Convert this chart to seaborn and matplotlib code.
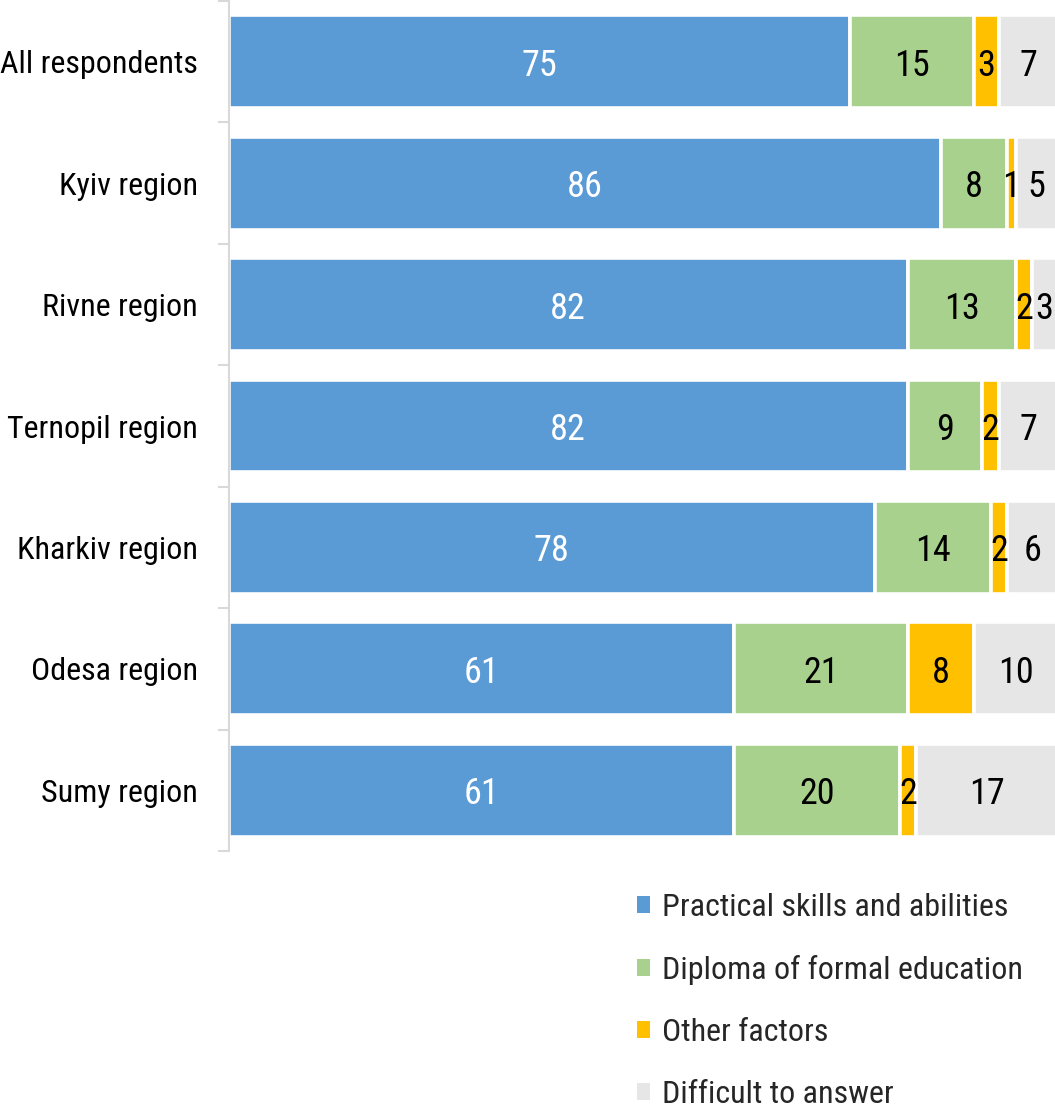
import matplotlib
matplotlib.use("Agg")
import matplotlib.pyplot as plt
from matplotlib import font_manager
from matplotlib.patches import Patch
import numpy as np
import pandas as pd
import seaborn as sns

regions = ["All respondents", "Kyiv region", "Rivne region", "Ternopil region",
           "Kharkiv region", "Odesa region", "Sumy region"]
practical = [75, 86, 82, 82, 78, 61, 61]
diploma = [15, 8, 13, 9, 14, 21, 20]
other = [3, 1, 2, 2, 2, 8, 2]
difficult = [7, 5, 3, 7, 6, 10, 17]

series_names = ["Practical skills and abilities", "Diploma of formal education",
                "Other factors", "Difficult to answer"]
series_values = [practical, diploma, other, difficult]
colors = ["#5B9BD5", "#A9D18E", "#FFC000", "#E6E6E6"]
text_colors = ["white", "black", "black", "black"]

sns.set_theme(style="white")
installed = {f.name for f in font_manager.fontManager.ttflist}
family = "Roboto Condensed" if "Roboto Condensed" in installed else "Roboto"
plt.rcParams["font.family"] = [family, "DejaVu Sans"]

fig = plt.figure(figsize=(10.55, 11.08), dpi=100)
ax = fig.add_axes([228.5 / 1055, 1 - 851 / 1108, (1057 - 228.5) / 1055, (851 - 1) / 1108])

df = pd.DataFrame({"region": regions})
left = np.zeros(len(regions))
for name, vals, col, tcol in zip(series_names, series_values, colors, text_colors):
    df[name] = vals
    sns.barplot(data=df, x=name, y="region", orient="h", color=col, saturation=1,
                width=0.765, left=left, edgecolor="white", linewidth=2.6, ax=ax)
    for i, v in enumerate(vals):
        ax.text(left[i] + v / 2, i, str(v), ha="center", va="center_baseline",
                color=tcol, fontsize=26)
    left = left + np.array(vals)

ax.set_xlim(0, 100)
ax.set_ylim(len(regions) - 0.5, -0.5)
ax.set_xlabel("")
ax.set_ylabel("")
ax.set_xticks([])
for s in ["top", "right", "bottom"]:
    ax.spines[s].set_visible(False)
ax.spines["left"].set_color("#D9D9D9")
ax.spines["left"].set_linewidth(1.5)
ax.tick_params(axis="y", which="major", left=False, length=0, pad=22,
               labelsize=23, labelcolor="black")
ax.set_yticks(np.arange(-0.5, len(regions) + 0.5, 1), minor=True)
ax.tick_params(axis="y", which="minor", left=True, length=8, width=1.5,
               color="#D9D9D9", direction="out")

handles = [Patch(facecolor=c, edgecolor="none") for c in colors]
fig.legend(handles, series_names, loc="upper left", bbox_to_anchor=(637 / 1055, 1 - 893 / 1108),
           frameon=False, fontsize=23, handlelength=0.42, handleheight=0.42,
           handletextpad=0.36, labelspacing=1.03, borderpad=0, borderaxespad=0)

fig.savefig("out.png", dpi=100)
